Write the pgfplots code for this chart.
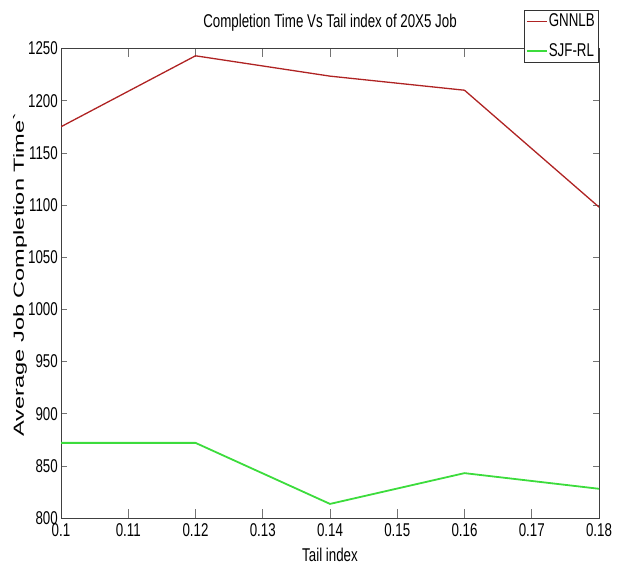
\documentclass[border=0pt]{standalone}
\usepackage{fontspec}
\setmainfont{Liberation Sans}[FakeStretch=0.72]
\newfontfamily\ylf{Liberation Sans}
\usepackage{graphicx}
\usepackage{pgfplots}
\pgfplotsset{compat=1.18}
\definecolor{gred}{RGB}{175,35,35}
\definecolor{sgreen}{RGB}{60,220,60}
\newcommand\fs{\fontsize{18.5}{22}\selectfont}
\begin{document}
\begin{tikzpicture}
\begin{axis}[
  scale only axis, width=538pt, height=469.5pt,
  xmin=0.1, xmax=0.18, ymin=800, ymax=1250,
  xtick={0.1,0.11,0.12,0.13,0.14,0.15,0.16,0.17,0.18},
  xticklabels={0.1,0.11,0.12,0.13,0.14,0.15,0.16,0.17,0.18},
  ytick={800,850,900,950,1000,1050,1100,1150,1200,1250},
  tick align=inside,
  xtick style={/pgfplots/major tick length=9pt, black!55, line width=0.6pt},
  ytick style={/pgfplots/major tick length=6pt, black!55, line width=0.6pt},
  axis line style={black!75, line width=0.8pt},
  tick label style={font=\fs},
  /pgf/number format/assume math mode=true,
  /pgf/number format/1000 sep={},
  xticklabel style={inner sep=5pt},
  yticklabel style={inner sep=3pt},
  title={Completion Time Vs Tail index of 20X5 Job},
  title style={font=\fs, at={(axis description cs:0.5,1.031)}, anchor=base},
  xlabel={Tail index},
  xlabel style={font=\fs, at={(axis description cs:0.5,-0.0937)}, anchor=base},
  ylabel={\ylf\fontsize{23.6}{28}\selectfont\scalebox{1}[0.62]{Average Job Completion Time`}},
  ylabel style={at={(axis description cs:-0.0762,0.518)}, anchor=center},
  legend style={at={(axis description cs:0.998,0.971)}, anchor=south east,
    draw=black!80, fill=white, font=\fs, inner xsep=2pt, inner ysep=2pt,
    row sep=11pt, nodes={inner xsep=1pt, inner ysep=2pt}},
  legend cell align=left,
  legend image code/.code={\draw[#1] (0pt,0pt) -- (20pt,0pt);},
]
\addplot[gred, line width=1.3pt] coordinates {(0.1,1175)(0.12,1243)(0.14,1223.5)(0.16,1210)(0.18,1098)};
\addlegendentry{GNNLB}
\addplot[sgreen, line width=1.8pt] coordinates {(0.1,872)(0.12,872)(0.14,813.5)(0.16,843)(0.18,828)};
\addlegendentry{SJF-RL}
\coordinate (SW) at (rel axis cs:0,0);
\coordinate (NE) at (rel axis cs:1,1);
\end{axis}
\pgfresetboundingbox
\path ([shift={(-61pt,-52pt)}]SW) rectangle ([shift={(21pt,48.5pt)}]NE);
\end{tikzpicture}
\end{document}
